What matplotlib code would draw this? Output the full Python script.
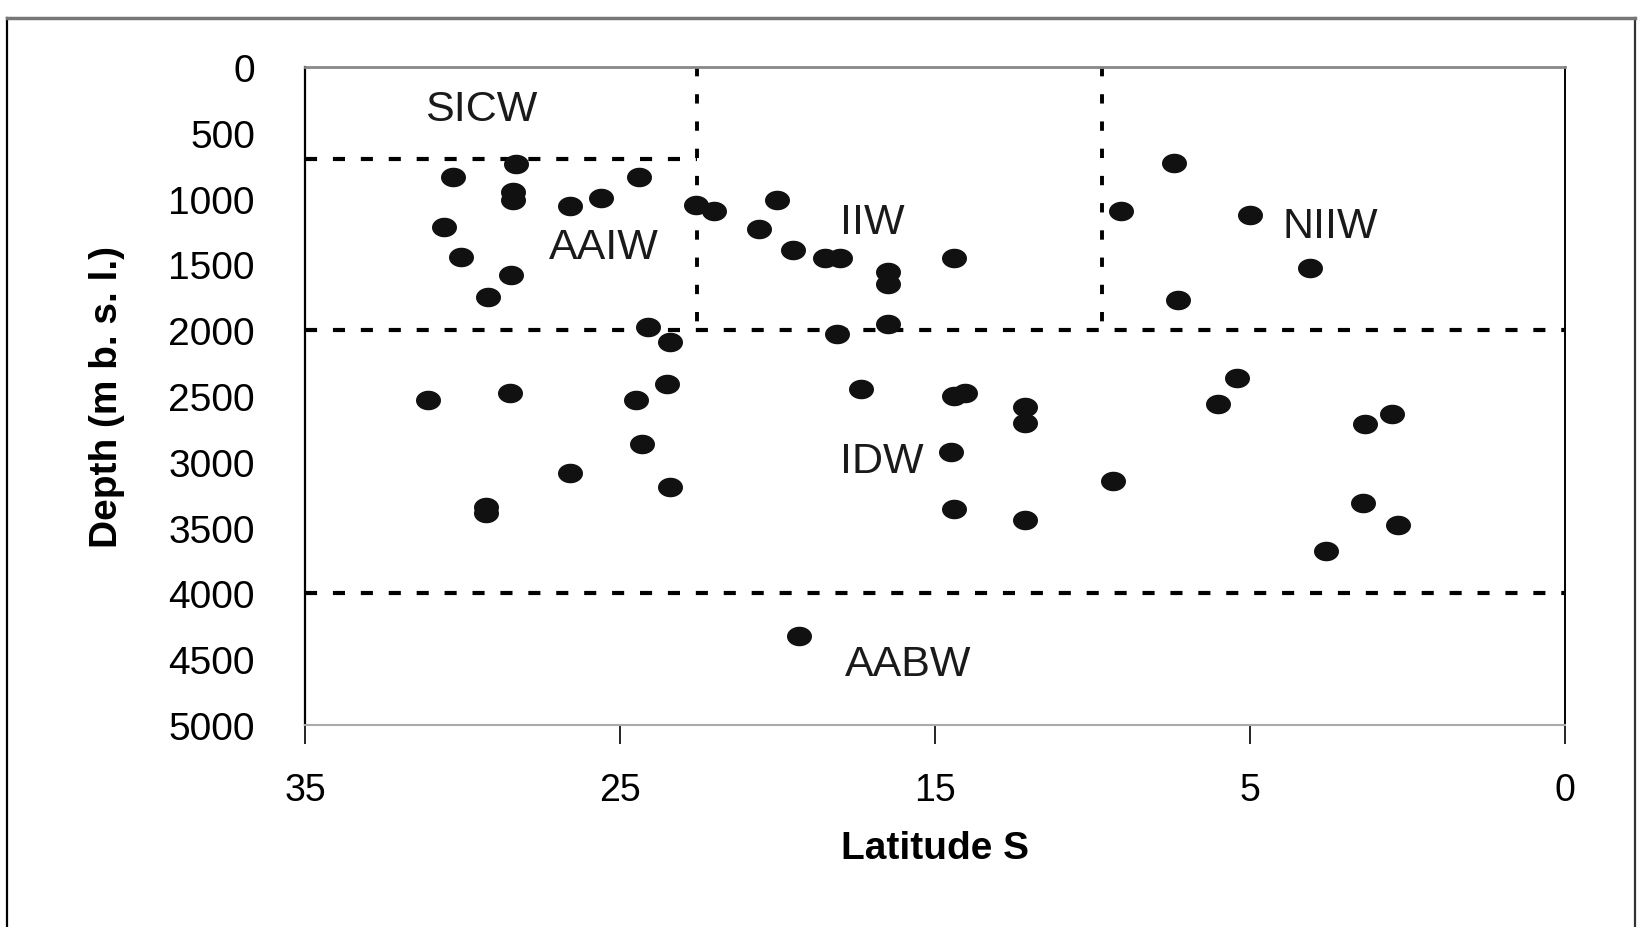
import numpy as np
import matplotlib
matplotlib.use('Agg')
import matplotlib.pyplot as plt
from matplotlib.path import Path

plt.rcParams['font.family'] = ['Liberation Sans', 'DejaVu Sans']

# station positions (latitude S) and sample depths (m b.s.l.)
latitude = [28.3, 30.3, 28.4, 28.4, 26.6, 25.6, 24.4, 22.6, 22.0, 30.6,
            30.05, 28.45, 29.2, 24.1, 23.4, 20.0, 20.6, 19.5, 18.5, 18.0,
            16.5, 16.5, 14.4, 16.5, 18.1, 9.1, 7.4, 5.0, 3.1, 7.3,
            31.1, 28.5, 24.5, 23.5, 24.3, 26.6, 23.4, 29.25, 29.25, 17.35,
            14.4, 14.05, 12.15, 12.15, 14.5, 9.35, 14.4, 12.15, 19.3, 5.4,
            6.0, 0.5, 1.35, 1.4, 0.3, 2.6]
depth = [738, 839, 950, 1010, 1055, 996, 839, 1049, 1097, 1219,
         1440, 1577, 1744, 1972, 2090, 1009, 1232, 1392, 1455, 1455,
         1561, 1650, 1455, 1954, 2030, 1097, 730, 1123, 1531, 1770,
         2532, 2474, 2530, 2411, 2862, 3087, 3189, 3340, 3390, 2449,
         2500, 2474, 2580, 2707, 2922, 3146, 3356, 3445, 4325, 2360,
         2563, 2634, 2710, 3316, 3480, 3678]

# water mass labels
mass_names = ['SICW', 'AAIW', 'IIW', 'NIIW', 'IDW', 'AABW']
mass_lat = [29.4, 25.5, 17.0, 2.45, 16.7, 15.85]
mass_depth = [320, 1370, 1180, 1205, 2995, 4540]

# boundaries between water masses
bound_depths = [2000, 4000]
sicw_depth = 700
front_lats = [22.55, 9.7]

# excel axis: equally spaced ticks, last one labelled 0
xtick_pos = [35, 25, 15, 5, -5]
xtick_labels = ['35', '25', '15', '5', '0']
ytick_pos = np.arange(0, 5001, 500)

fig = plt.figure(figsize=(16.43, 9.28), dpi=100)
ax = fig.add_axes([0.1856, 0.2177, 0.7669, 0.709])

# chart frame (scanned excel chart area)
fig.add_artist(plt.Line2D([0.0043, 0.0043], [0.0, 0.979], color='black', lw=1.6))
fig.add_artist(plt.Line2D([0.9951, 0.9951], [0.0, 0.979], color='#333333', lw=1.6))
fig.add_artist(plt.Line2D([0.0043, 0.9951], [0.979, 0.979], color='#777777', lw=2.5))

# ellipse shaped marker like the scan
t = np.linspace(0, 2 * np.pi, 40)
ellipse = Path(np.column_stack([1.3 * np.cos(t), np.sin(t)]))

dash_kw = dict(color='black', lw=3, dashes=(2.9, 3.8), dash_capstyle='butt')
dot_kw = dict(color='black', lw=2.8, dashes=(2.4, 4.6), dash_capstyle='butt')

ax.plot([35, front_lats[0]], [sicw_depth, sicw_depth], **dash_kw)
for d in bound_depths:
    ax.plot([35, -5], [d, d], **dash_kw)
for la in front_lats:
    ax.plot([la, la], [0, 2000], **dot_kw)

ax.plot(latitude, depth, linestyle='none', marker=ellipse, markersize=17,
        color='#111111', zorder=5)

for name, la, d in zip(mass_names, mass_lat, mass_depth):
    ax.text(la, d, name, fontsize=31, ha='center', va='center', color='#1a1a1a')

ax.set_xlim(35, -5)
ax.set_ylim(5000, 0)
ax.set_xticks(xtick_pos)
ax.set_xticklabels(xtick_labels)
ax.set_yticks(ytick_pos)
ax.tick_params(axis='x', length=14, width=1.2, direction='out', labelsize=27, pad=20)
ax.tick_params(axis='y', length=0, labelsize=28, pad=36)

ax.spines['left'].set_linewidth(1.6)
ax.spines['right'].set_linewidth(1.4)
ax.spines['top'].set_color('#888888')
ax.spines['top'].set_linewidth(2)
ax.spines['bottom'].set_color('#aaaaaa')
ax.spines['bottom'].set_linewidth(1.5)

ax.set_xlabel('Latitude S', fontsize=28, fontweight='bold', labelpad=16)
ax.set_ylabel('Depth (m b. s. l.)', fontsize=28, fontweight='bold')
ax.yaxis.set_label_coords(-0.143, 0.5)

fig.savefig('out.png', dpi=100)
